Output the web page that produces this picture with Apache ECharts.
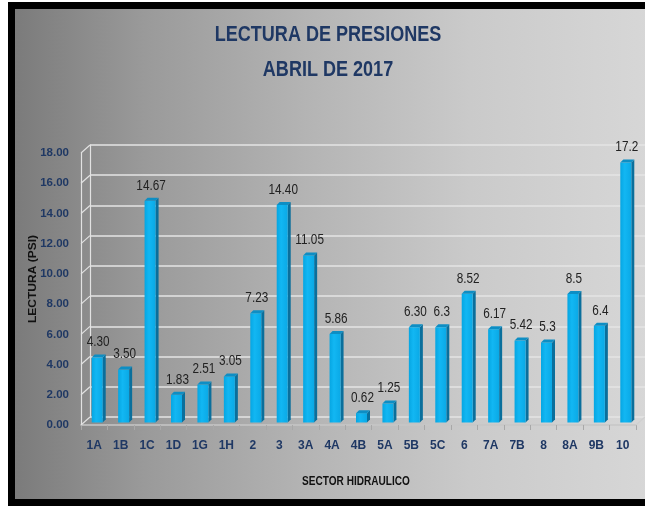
<!DOCTYPE html>
<html>
<head>
<meta charset="utf-8">
<script src="https://cdn.jsdelivr.net/npm/echarts@6/dist/echarts.min.js"></script>
<style>
  html, body { margin: 0; padding: 0; background: #ffffff; overflow: hidden; width: 100%; height: 100%; }
  #frame {
    position: absolute; left: 8px; top: 2px; right: -20px; height: 490px;
    border-left: 7px solid #000; border-top: 7px solid #000; border-bottom: 7px solid #000;
    background: linear-gradient(to right, #7b7b7b 0%, #9a9a9a 20%, #b4b4b4 45%, #cacaca 70%, #d8d8d8 100%);
  }
  #chart { position: absolute; left: 0; top: 0; width: 645px; height: 506px; }
</style>
</head>
<body>
<div id="frame"></div>
<div id="chart"></div>
<script>
// Pressure readings per hydraulic sector, April 2017
const categories = ['1A', '1B', '1C', '1D', '1G', '1H', '2', '3', '3A', '4A', '4B', '5A', '5B', '5C', '6', '7A', '7B', '8', '8A', '9B', '10'];
const values = [4.30, 3.50, 14.67, 1.83, 2.51, 3.05, 7.23, 14.40, 11.05, 5.86, 0.62, 1.25, 6.30, 6.3, 8.52, 6.17, 5.42, 5.3, 8.5, 6.4, 17.2];
const valueLabels = ['4.30', '3.50', '14.67', '1.83', '2.51', '3.05', '7.23', '14.40', '11.05', '5.86', '0.62', '1.25', '6.30', '6.3', '8.52', '6.17', '5.42', '5.3', '8.5', '6.4', '17.2'];
const yTicks = [0, 2, 4, 6, 8, 10, 12, 14, 16, 18];

const FONT = "'Liberation Sans', Arial, sans-serif";
const NAVY = '#1f3864';
// narrow glyphs: text is squeezed horizontally
const SQUEEZE = 0.84;
// depth of the pseudo-3D wall and bars
const WALL_DX = 9, WALL_DY = 8;
const BAR_W = 11, BAR_DX = 3, BAR_DY = 3, BAR_SHIFT_X = 3, BAR_SHIFT_Y = -2.5;

const chart = echarts.init(document.getElementById('chart'), null, { renderer: 'canvas' });

function renderBar(params, api) {
  const i = api.value(0);
  const v = api.value(1);
  const top = api.coord([i, v]);
  const base = api.coord([i, 0]);
  const cx = top[0] + BAR_SHIFT_X;
  const x0 = cx - BAR_W / 2, x1 = cx + BAR_W / 2;
  const yt = top[1] + BAR_SHIFT_Y, yb = base[1] + BAR_SHIFT_Y;
  return {
    type: 'group',
    children: [
      { type: 'polygon', shape: { points: [[x1, yt], [x1 + BAR_DX, yt - BAR_DY], [x1 + BAR_DX, yb - BAR_DY], [x1, yb]] },
        style: { fill: '#0a6f9c' } },
      { type: 'rect', shape: { x: x0, y: yt, width: BAR_W, height: yb - yt },
        style: { fill: new echarts.graphic.LinearGradient(0, 0, 1, 0, [
          { offset: 0, color: '#06a6e2' }, { offset: 0.4, color: '#12b7f3' }, { offset: 1, color: '#0aa9e6' }]) } },
      { type: 'polygon', shape: { points: [[x0, yt], [x0 + BAR_DX, yt - BAR_DY], [x1 + BAR_DX, yt - BAR_DY], [x1, yt]] },
        style: { fill: '#0d8ec4' } },
      { type: 'text', x: cx + 1, y: yt - 8, scaleX: SQUEEZE,
        style: { text: valueLabels[i], x: 0, y: 0, align: 'center', verticalAlign: 'bottom',
          font: '14px ' + FONT, fill: '#222222' } }
    ]
  };
}

function renderWall(params, api) {
  const v = api.value(0);
  const cs = params.coordSys;
  const y = api.coord([0, v])[1];
  const style = { stroke: '#e2e2e2', lineWidth: 1.2 };
  const children = [
    { type: 'line', shape: { x1: cs.x, y1: y, x2: cs.x + WALL_DX, y2: y - WALL_DY }, style }
  ];
  if (v === 0) {
    children.push({ type: 'line', shape: { x1: cs.x + cs.width, y1: y, x2: cs.x + cs.width + WALL_DX, y2: y - WALL_DY },
      style: { stroke: '#d0d0d0', lineWidth: 1.2 } });
  }
  return { type: 'group', children };
}

function squeezedText(text, x, y, font, fill, rotation, squeeze) {
  const s = squeeze || SQUEEZE;
  return { type: 'text', x, y, rotation: rotation || 0, scaleX: rotation ? 1 : s, scaleY: rotation ? s : 1,
    style: { text, x: 0, y: 0, font, fill, align: 'center', verticalAlign: 'middle' } };
}

chart.setOption({
  animation: false,
  backgroundColor: 'transparent',
  graphic: [
    squeezedText('LECTURA DE PRESIONES', 328, 35, 'bold 22px ' + FONT, NAVY, 0, 0.82),
    squeezedText('ABRIL DE 2017', 328, 70, 'bold 22px ' + FONT, NAVY, 0, 0.82),
    squeezedText('LECTURA (PSI)', 33, 279, 'bold 12px ' + FONT, '#111', Math.PI / 2),
    squeezedText('SECTOR HIDRAULICO', 356, 482, 'bold 12px ' + FONT, '#111')
  ],
  grid: [
    { left: 81, right: 9, top: 153, bottom: 81 },
    { left: 90, right: 0, top: 145, bottom: 89 }
  ],
  xAxis: [
    { type: 'category', gridIndex: 0, data: categories, boundaryGap: true,
      axisLine: { lineStyle: { color: '#c6c6c6', width: 1.5 } },
      axisTick: { show: true, length: 5, lineStyle: { color: '#a8a8a8' } },
      axisLabel: { margin: 15, fontFamily: FONT, fontSize: 12, fontWeight: 'bold', color: NAVY, interval: 0 } },
    { type: 'value', gridIndex: 1, min: 0, max: 1, show: false }
  ],
  yAxis: [
    { type: 'value', gridIndex: 0, min: 0, max: 18, interval: 2,
      axisLine: { show: true, lineStyle: { color: '#e2e2e2', width: 1.2 } },
      axisTick: { show: false },
      splitLine: { show: false },
      axisLabel: { margin: 12, fontFamily: FONT, fontSize: 11.5, fontWeight: 'bold', color: NAVY,
        formatter: v => v.toFixed(2) } },
    { type: 'value', gridIndex: 1, min: 0, max: 18, interval: 2,
      axisLine: { show: true, lineStyle: { color: '#e2e2e2', width: 1.2 } },
      axisTick: { show: false }, axisLabel: { show: false },
      splitLine: { show: true, lineStyle: { color: '#e4e4e4', width: 1.6 } } }
  ],
  series: [
    { type: 'custom', name: 'wall', xAxisIndex: 0, yAxisIndex: 0, renderItem: renderWall,
      data: yTicks.map(v => [v]), encode: { y: 0 }, clip: false, silent: true, z: 1 },
    { type: 'custom', name: 'Lectura', xAxisIndex: 0, yAxisIndex: 0, renderItem: renderBar,
      data: values.map((v, i) => [i, v]), encode: { x: 0, y: 1 }, clip: false, z: 3 }
  ]
});
</script>
</body>
</html>
